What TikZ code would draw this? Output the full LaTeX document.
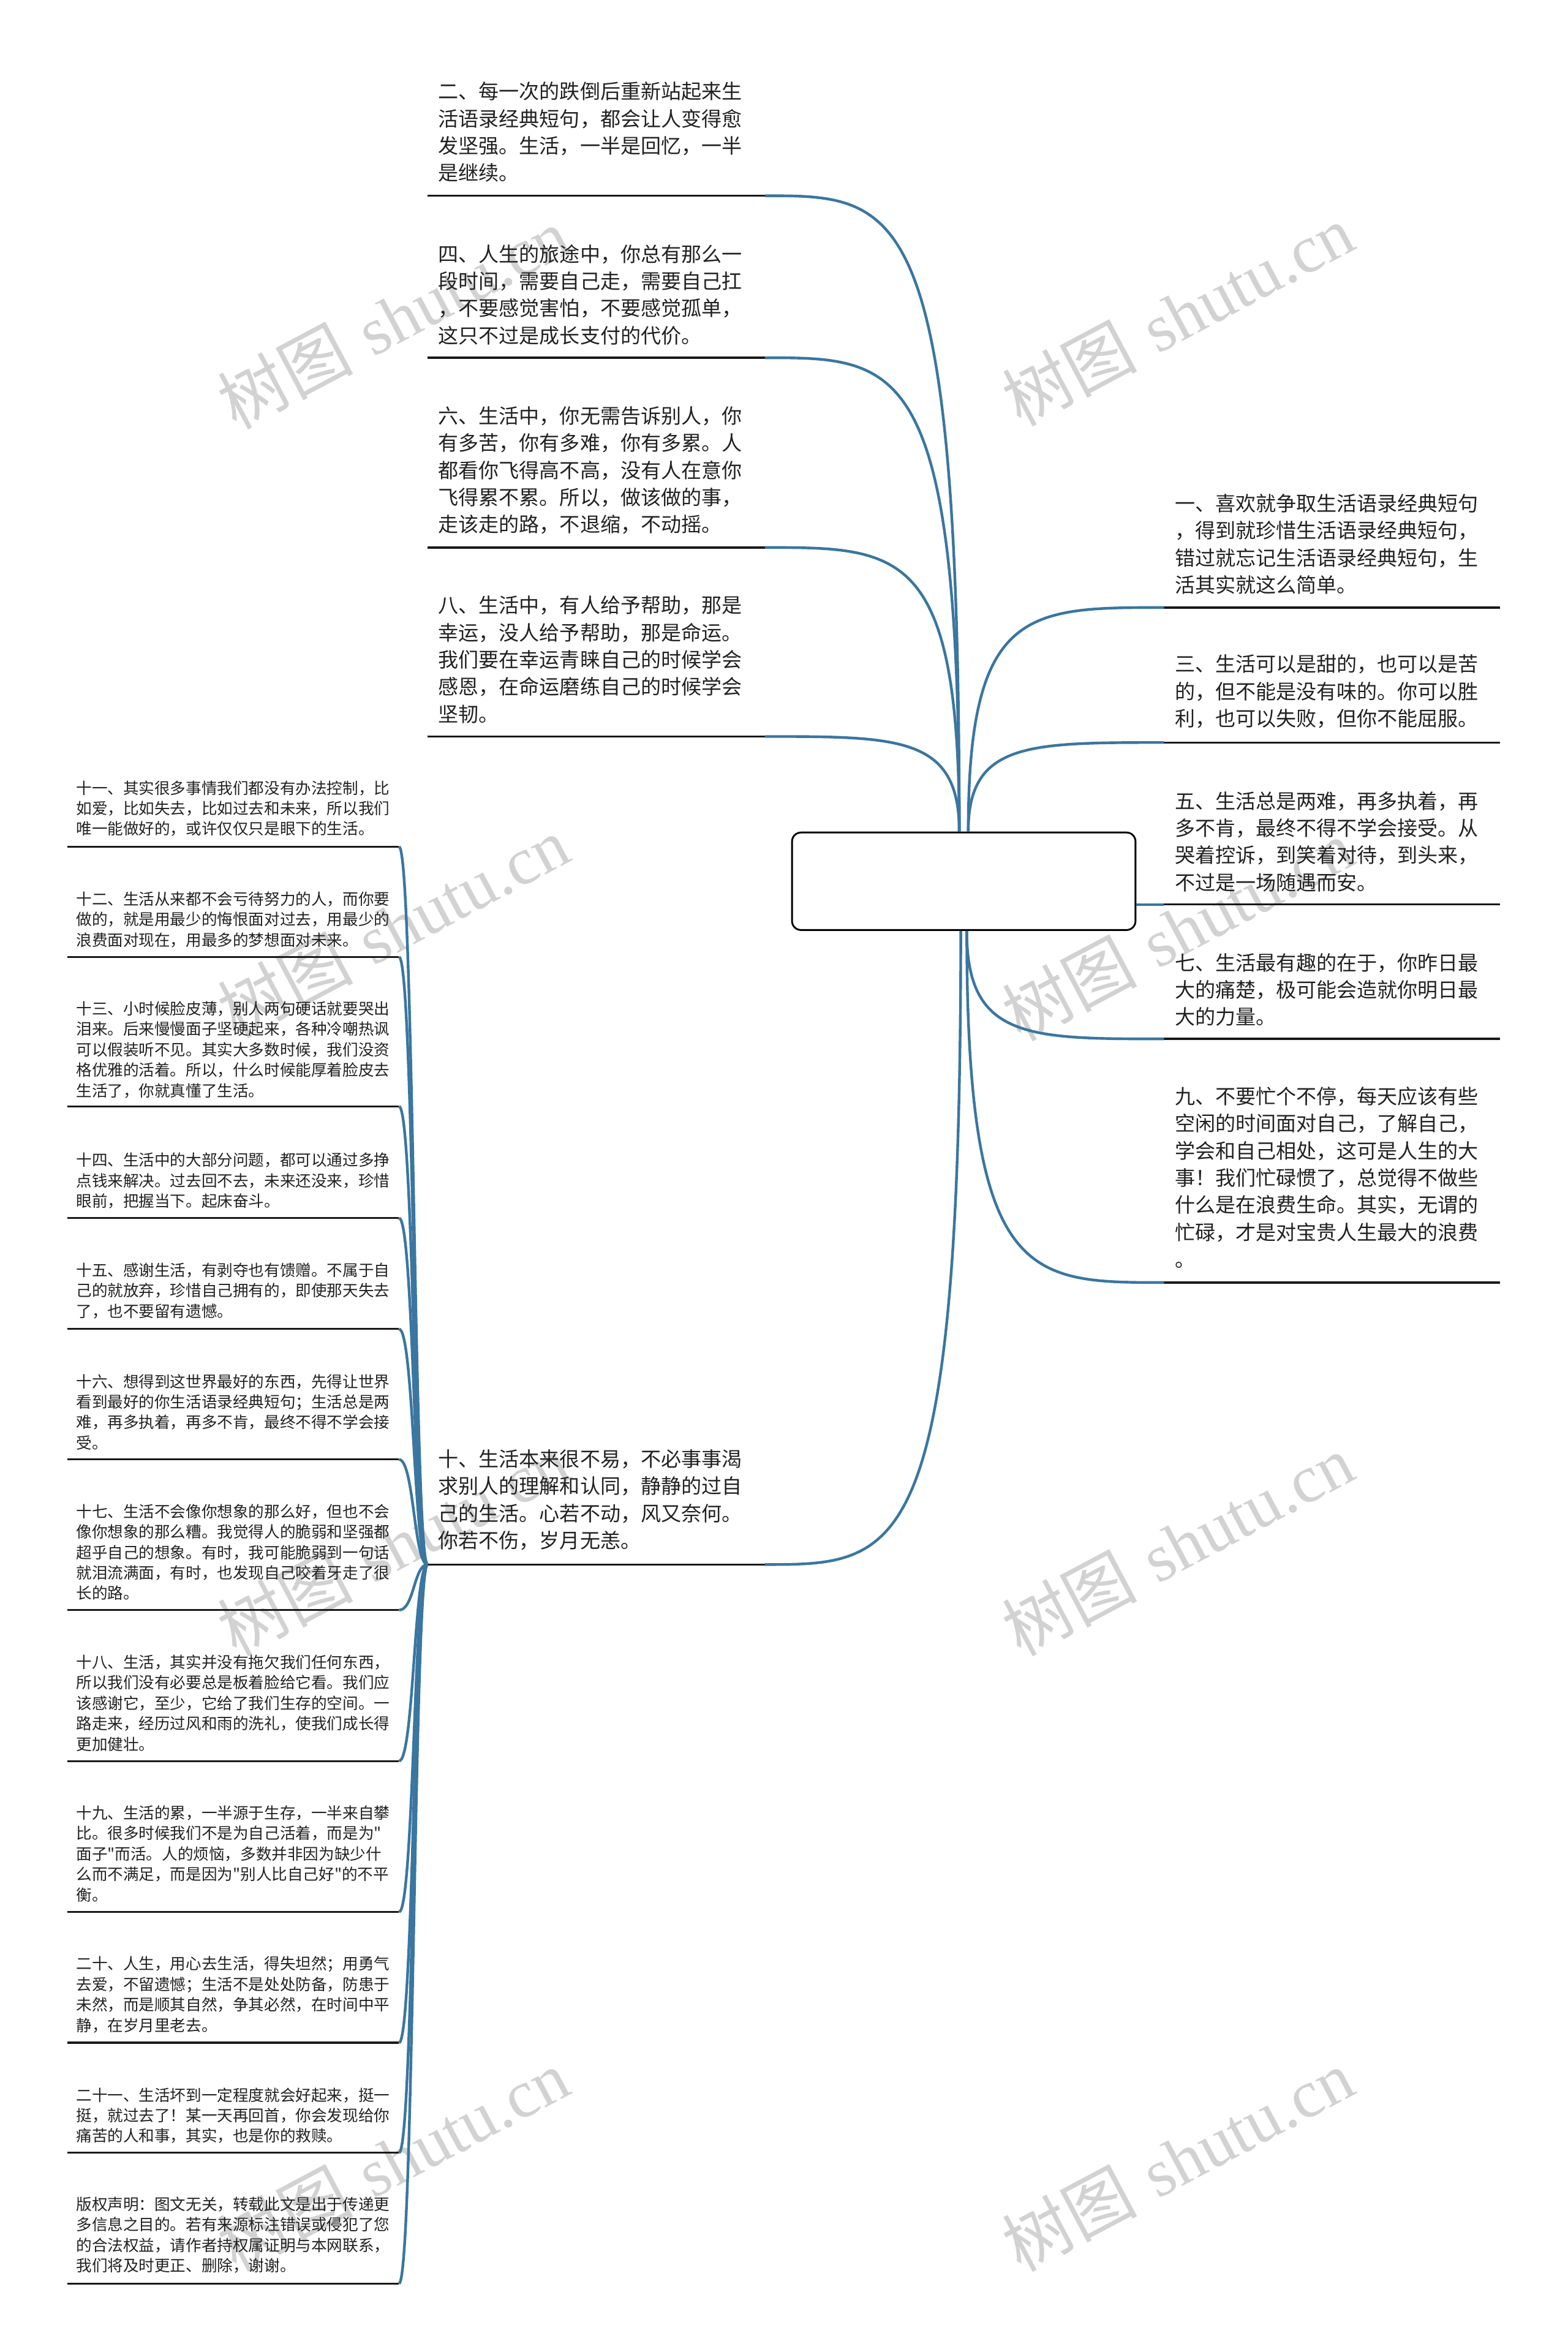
\documentclass[tikz,border=0pt]{standalone}
\usepackage{fontspec}
\newfontfamily\cjk{Noto Sans CJK SC}
\newfontfamily\wmserif{Liberation Serif}
\definecolor{connblue}{RGB}{58,118,160}
\definecolor{txtc}{RGB}{34,34,34}
\definecolor{wmc}{RGB}{210,210,210}
\begin{document}
\begin{tikzpicture}[x=1pt,y=-1pt,
  conn/.style={draw=connblue, line width=1.8pt},
  uline/.style={draw=black!90, line width=1.4pt},
  sline/.style={draw=black!90, line width=1.3pt},
  bigtext/.style={font=\cjk\fontsize{13.5}{18.1}\selectfont, text=txtc, align=left, inner sep=0pt, anchor=west},
  smalltext/.style={font=\cjk\fontsize{10.45}{13.65}\selectfont, text=txtc, align=left, inner sep=0pt, anchor=west},
  wmark/.style={font=\fontsize{45}{45}\selectfont, text=wmc, rotate=28, inner sep=0pt},
  rootbox/.style={draw=black, line width=1.2pt, rounded corners=6pt, fill=white, minimum width=229pt, minimum height=65pt}
]
\useasboundingbox (0,0) rectangle (1045,1568);
\fill[white] (0,0) rectangle (1045,1568);

% watermarks
\foreach \i/\x/\y in {1/262/212, 2/785/210, 3/262/618, 4/785/620, 5/262/1030, 6/785/1030, 7/262/1440, 8/785/1440}
  \node[wmark] (wm\i) at (\x,\y) {{\cjk 树图} {\wmserif shutu.cn}};

% root
\node[rootbox] (root) at (642.5,587.5) {};

% ---------- upper-left items ----------
\node[bigtext] (t2) at (292,88.1) {二、每一次的跌倒后重新站起来生\\活语录经典短句，都会让人变得愈\\发坚强。生活，一半是回忆，一半\\是继续。};
\coordinate (a2) at (285,130.5); \coordinate (b2) at (510,130.5);
\node[bigtext] (t4) at (292,196.5) {四、人生的旅途中，你总有那么一\\段时间，需要自己走，需要自己扛\\，不要感觉害怕，不要感觉孤单，\\这只不过是成长支付的代价。};
\coordinate (a4) at (285,238.5); \coordinate (b4) at (510,238.5);
\node[bigtext] (t6) at (292,313.6) {六、生活中，你无需告诉别人，你\\有多苦，你有多难，你有多累。人\\都看你飞得高不高，没有人在意你\\飞得累不累。所以，做该做的事，\\走该走的路，不退缩，不动摇。};
\coordinate (a6) at (285,365); \coordinate (b6) at (510,365);
\node[bigtext] (t8) at (292,439.75) {八、生活中，有人给予帮助，那是\\幸运，没人给予帮助，那是命运。\\我们要在幸运青睐自己的时候学会\\感恩，在命运磨练自己的时候学会\\坚韧。};
\coordinate (a8) at (285,491); \coordinate (b8) at (510,491);
\node[bigtext] (t10) at (292,1000) {十、生活本来很不易，不必事事渴\\求别人的理解和认同，静静的过自\\己的生活。心若不动，风又奈何。\\你若不伤，岁月无恙。};
\coordinate (a10) at (285,1043); \coordinate (b10) at (510,1043);

\foreach \k in {2,4,6,8,10} \draw[uline] (a\k) -- (b\k);

\draw[conn] ([xshift=-3pt]root.north) .. controls (639.5,130.5) and (600,130.5) .. (b2);
\draw[conn] ([xshift=-3pt]root.north) .. controls (639.5,238.5) and (600,238.5) .. (b4);
\draw[conn] ([xshift=-3pt]root.north) .. controls (639.5,365) and (600,365) .. (b6);
\draw[conn] ([xshift=-3pt]root.north) .. controls (639.5,491) and (600,491) .. (b8);
\draw[conn] ([xshift=-2pt]root.south) .. controls (640.5,1043) and (600,1043) .. (b10);

% ---------- right items ----------
\node[bigtext] (t1) at (783,362.75) {一、喜欢就争取生活语录经典短句\\，得到就珍惜生活语录经典短句，\\错过就忘记生活语录经典短句，生\\活其实就这么简单。};
\coordinate (a1) at (776,405); \coordinate (b1) at (1000,405);
\node[bigtext] (t3) at (783,461) {三、生活可以是甜的，也可以是苦\\的，但不能是没有味的。你可以胜\\利，也可以失败，但你不能屈服。};
\coordinate (a3) at (776,495); \coordinate (b3) at (1000,495);
\node[bigtext] (t5) at (783,561) {五、生活总是两难，再多执着，再\\多不肯，最终不得不学会接受。从\\哭着控诉，到笑着对待，到头来，\\不过是一场随遇而安。};
\coordinate (a5) at (776,603); \coordinate (b5) at (1000,603);
\node[bigtext] (t7) at (783,659.8) {七、生活最有趣的在于，你昨日最\\大的痛楚，极可能会造就你明日最\\大的力量。};
\coordinate (a7) at (776,692.6); \coordinate (b7) at (1000,692.6);
\node[bigtext] (t9) at (783,785) {九、不要忙个不停，每天应该有些\\空闲的时间面对自己，了解自己，\\学会和自己相处，这可是人生的大\\事！我们忙碌惯了，总觉得不做些\\什么是在浪费生命。其实，无谓的\\忙碌，才是对宝贵人生最大的浪费\\。};
\coordinate (a9) at (776,855); \coordinate (b9) at (1000,855);

\foreach \k in {1,3,5,7,9} \draw[uline] (a\k) -- (b\k);

\draw[conn] ([xshift=3pt]root.north) .. controls (645.5,405) and (685,405) .. (a1);
\draw[conn] ([xshift=3pt]root.north) .. controls (645.5,495) and (685,495) .. (a3);
\draw[conn] (root.east |- a5) -- (a5);
\draw[conn] ([xshift=2pt]root.south) .. controls (644.5,692.6) and (685,692.6) .. (a7);
\draw[conn] ([xshift=2pt]root.south) .. controls (644.5,855) and (685,855) .. (a9);

% ---------- small items ----------
\node[smalltext] (s11) at (50.6,539) {十一、其实很多事情我们都没有办法控制，比\\如爱，比如失去，比如过去和未来，所以我们\\唯一能做好的，或许仅仅只是眼下的生活。};
\coordinate (c11) at (45,564.5); \coordinate (d11) at (266,564.5);
\node[smalltext] (s12) at (50.6,613.1) {十二、生活从来都不会亏待努力的人，而你要\\做的，就是用最少的悔恨面对过去，用最少的\\浪费面对现在，用最多的梦想面对未来。};
\coordinate (c12) at (45,638); \coordinate (d12) at (266,638);
\node[smalltext] (s13) at (50.6,699.75) {十三、小时候脸皮薄，别人两句硬话就要哭出\\泪来。后来慢慢面子坚硬起来，各种冷嘲热讽\\可以假装听不见。其实大多数时候，我们没资\\格优雅的活着。所以，什么时候能厚着脸皮去\\生活了，你就真懂了生活。};
\coordinate (c13) at (45,737.6); \coordinate (d13) at (266,737.6);
\node[smalltext] (s14) at (50.6,787.1) {十四、生活中的大部分问题，都可以通过多挣\\点钱来解决。过去回不去，未来还没来，珍惜\\眼前，把握当下。起床奋斗。};
\coordinate (c14) at (45,812); \coordinate (d14) at (266,812);
\node[smalltext] (s15) at (50.6,860.5) {十五、感谢生活，有剥夺也有馈赠。不属于自\\己的就放弃，珍惜自己拥有的，即使那天失去\\了，也不要留有遗憾。};
\coordinate (c15) at (45,886); \coordinate (d15) at (266,886);
\node[smalltext] (s16) at (50.6,941.35) {十六、想得到这世界最好的东西，先得让世界\\看到最好的你生活语录经典短句；生活总是两\\难，再多执着，再多不肯，最终不得不学会接\\受。};
\coordinate (c16) at (45,973); \coordinate (d16) at (266,973);
\node[smalltext] (s17) at (50.6,1034.8) {十七、生活不会像你想象的那么好，但也不会\\像你想象的那么糟。我觉得人的脆弱和坚强都\\超乎自己的想象。有时，我可能脆弱到一句话\\就泪流满面，有时，也发现自己咬着牙走了很\\长的路。};
\coordinate (c17) at (45,1073.4); \coordinate (d17) at (266,1073.4);
\node[smalltext] (s18) at (50.6,1135.35) {十八、生活，其实并没有拖欠我们任何东西，\\所以我们没有必要总是板着脸给它看。我们应\\该感谢它，至少，它给了我们生存的空间。一\\路走来，经历过风和雨的洗礼，使我们成长得\\更加健壮。};
\coordinate (c18) at (45,1174); \coordinate (d18) at (266,1174);
\node[smalltext] (s19) at (50.6,1235.85) {十九、生活的累，一半源于生存，一半来自攀\\比。很多时候我们不是为自己活着，而是为"\\面子"而活。人的烦恼，多数并非因为缺少什\\么而不满足，而是因为"别人比自己好"的不平\\衡。};
\coordinate (c19) at (45,1274.7); \coordinate (d19) at (266,1274.7);
\node[smalltext] (s20) at (50.6,1329.7) {二十、人生，用心去生活，得失坦然；用勇气\\去爱，不留遗憾；生活不是处处防备，防患于\\未然，而是顺其自然，争其必然，在时间中平\\静，在岁月里老去。};
\coordinate (c20) at (45,1361.8); \coordinate (d20) at (266,1361.8);
\node[smalltext] (s21) at (50.6,1410.35) {二十一、生活坏到一定程度就会好起来，挺一\\挺，就过去了！某一天再回首，你会发现给你\\痛苦的人和事，其实，也是你的救赎。};
\coordinate (c21) at (45,1435.1); \coordinate (d21) at (266,1435.1);
\node[smalltext] (s22) at (50.6,1490) {版权声明：图文无关，转载此文是出于传递更\\多信息之目的。若有来源标注错误或侵犯了您\\的合法权益，请作者持权属证明与本网联系，\\我们将及时更正、删除，谢谢。};
\coordinate (c22) at (45,1522.3); \coordinate (d22) at (266,1522.3);

\foreach \k/\u in {11/564.5,12/638,13/737.6,14/812,15/886,16/973,17/1073.4,18/1174,19/1274.7,20/1361.8,21/1435.1,22/1522.3} {
  \draw[sline] (c\k) -- (d\k);
  \draw[conn] (a10) .. controls (276,1043) and (276,\u) .. (d\k);
}
\end{tikzpicture}
\end{document}
